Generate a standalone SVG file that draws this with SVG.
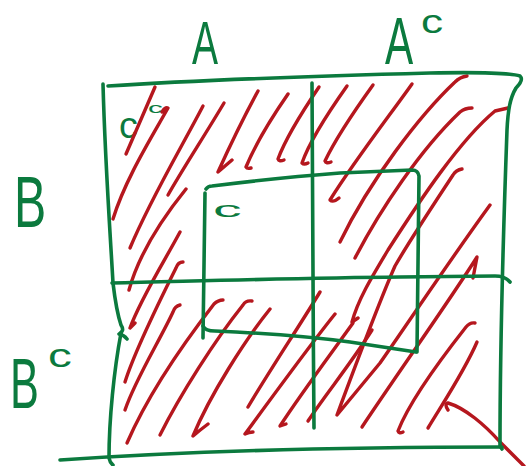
<svg xmlns="http://www.w3.org/2000/svg" width="528" height="466" viewBox="0 0 528 466">
<style>
.g{fill:none;stroke:#0b7a3e;stroke-width:3.6;stroke-linecap:round;stroke-linejoin:round}
.r{fill:none;stroke:#b5171e;stroke-width:3.4;stroke-linecap:round;stroke-linejoin:round}
.t{fill:#0b7a3e;font-family:"Liberation Sans",Arial,sans-serif}
</style>
<rect width="528" height="466" fill="#ffffff"/>
<g id="labels">
<text class="t" transform="translate(192,64) scale(0.63,1)" font-size="62">A</text>
<text class="t" transform="translate(385,64) scale(0.64,1)" font-size="66">A</text>
<text class="t" transform="translate(421,33) scale(1.3,1)" font-size="34">c</text>
<text class="t" transform="translate(14,227) scale(0.67,1)" font-size="72">B</text>
<text class="t" transform="translate(10,408) scale(0.61,1)" font-size="71">B</text>
<text class="t" transform="translate(48,367) scale(1.4,1)" font-size="34">c</text>
<text class="t" transform="translate(119,138) scale(1.05,1)" font-size="36">c</text>
<text class="t" transform="translate(148,113) scale(2,1)" font-size="15">c</text>
<text class="t" transform="translate(213,217) scale(2.6,1)" font-size="22">c</text>
</g>
<g id="hatching">
<path class="r" d="M155,87 L126,154"/>
<path class="r" d="M162,112 Q165,107 168,108 C150,140 125,180 113,219"/>
<path class="r" d="M203,106 C180,150 150,200 130,248"/>
<path class="r" d="M224,103 C205,135 182,170 168,195"/>
<path class="r" d="M186,189 C165,215 140,250 129,290"/>
<path class="r" d="M180,232 C165,260 140,300 130,328 L135,323"/>
<path class="r" d="M258,91 C245,115 228,150 218,172 Q225,166 232,160"/>
<path class="r" d="M288,94 C270,120 255,145 246,167 Q247,169 251,168"/>
<path class="r" d="M319,87 C300,115 285,140 278,159 Q279,162 284,160"/>
<path class="r" d="M347,86 C330,110 310,140 302,163 Q304,165 308,163"/>
<path class="r" d="M373,85 C355,110 335,140 325,161 Q326,164 331,162"/>
<path class="r" d="M412,84 C390,115 355,160 330,200 Q333,203 339,198"/>
<path class="r" d="M467,76 Q460,77 455,82 C420,115 370,180 340,242"/>
<path class="r" d="M472,108 Q465,108 460,112 C420,150 380,210 355,258"/>
<path class="r" d="M508,108 L495,111 C460,140 420,200 388,250 C370,280 358,300 352,322 L358,318"/>
<path class="r" d="M462,169 Q456,170 453,175 C430,210 410,240 395,266 C380,300 350,380 337,415 L380,363 C410,320 450,260 490,205"/>
<path class="r" d="M473,278 L477,257 C450,300 400,370 362,427"/>
<path class="r" d="M475,323 Q470,322 466,327 C440,360 410,400 398,431 Q399,434 403,432"/>
<path class="r" d="M477,342 C465,370 445,400 428,428"/>
<path class="r" d="M448,410 Q444,404 448,403 C465,408 485,425 500,442 C510,452 518,460 524,466"/>
<path class="r" d="M183,262 Q178,262 176,268 C160,300 135,350 125,382"/>
<path class="r" d="M180,305 Q175,306 173,312 C160,340 135,380 125,410"/>
<path class="r" d="M223,300 Q218,300 214,304 C190,335 150,390 127,443"/>
<path class="r" d="M252,301 Q246,300 243,305 C215,340 180,395 160,435"/>
<path class="r" d="M270,309 C245,340 210,395 193,436 Q200,430 208,424"/>
<path class="r" d="M320,292 C300,325 270,370 248,407"/>
<path class="r" d="M335,314 C310,345 270,400 245,434 Q249,432 253,432"/>
<path class="r" d="M353,323 C330,355 300,395 280,426 Q283,425 286,424"/>
<path class="r" d="M372,330 C350,365 325,395 308,421"/>
</g>
<g id="frame">
<path class="g" d="M103,84 C105,160 110,230 113,283 C115,300 118,316 121,325 Q125,331 119,334 Q124,335 127,339"/>
<path class="g" d="M121,333 C114,370 109,420 109,458 Q110,463 113,465"/>
<path class="g" d="M108,86 C200,80 320,76 430,73 C480,72 510,73 520,76 Q524,80 516,88 C510,98 508,110 507,130 C503,240 500,340 500,446 L502,449"/>
<path class="g" d="M60,460 Q250,447 502,447"/>
<path class="g" d="M312,83 C312,150 313,300 314,428"/>
<path class="g" d="M112,283 C200,281 300,278 400,277 L495,276 Q505,276 510,282"/>
<path class="g" d="M206,189 Q208,186 212,186 C260,180 300,176 340,173 L412,170 Q418,170 419,176 L417,352"/>
<path class="g" d="M205,193 L203,338"/>
<path class="g" d="M203,326 Q205,331 215,331 C260,333 320,338 350,342 L416,352"/>
</g>
</svg>
